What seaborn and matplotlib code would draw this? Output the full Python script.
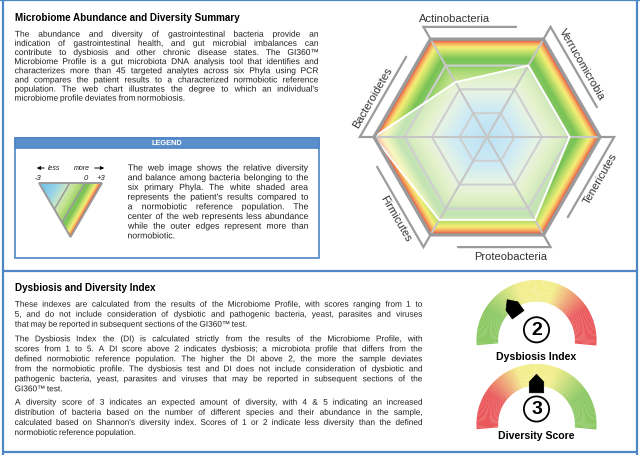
import numpy as np
import matplotlib
matplotlib.use('Agg')
import matplotlib.pyplot as plt
import seaborn as sns
from matplotlib.colors import LinearSegmentedColormap
from matplotlib.patches import Polygon, Wedge, Circle, Rectangle, PathPatch
from matplotlib.textpath import TextPath
from matplotlib.font_manager import FontProperties
from matplotlib.transforms import Affine2D

sns.set_theme(style='white')
plt.rcParams['font.family'] = ['Liberation Sans', 'DejaVu Sans']

W, H = 640, 456
BLUE = '#4f86c6'
INK = '#1f1f1f'

# ---- data ----
phyla = ['Actinobacteria', 'Verrucomicrobia', 'Tenericutes',
         'Proteobacteria', 'Firmicutes', 'Bacteroidetes']
# each phylum label sits on the hexagon edge that starts at this vertex angle (clockwise)
edge_start = [120, 60, 0, -60, -120, -180]
label_shift = [-0.04, 0.06, 0.12, 0.03, 0.12, 0.06]
# patient result on each spoke: -3 = centre, 0 = normobiotic ring, +3 = outer edge
spoke_angles = [0, 60, 120, 180, 240, 300]
spoke_scores = [0.0, 0.0, -0.7, 3.0, 1.3, 1.3]
ring_scores = [-2, -1, 0]

gauge_names = ['Dysbiosis Index', 'Diversity Score']
gauge_scores = [2, 3]
score_lo, score_hi = 1, 5

title_top = 'Microbiome Abundance and Diversity Summary'
intro_lines = [
    "The abundance and diversity of gastrointestinal bacteria provide an",
    "indication of gastrointestinal health, and gut microbial imbalances can",
    "contribute to dysbiosis and other chronic disease states. The GI360\u2122",
    "Microbiome Profile is a gut microbiota DNA analysis tool that identifies and",
    "characterizes more than 45 targeted analytes across six Phyla using PCR",
    "and compares the patient results to a characterized normobiotic reference",
    "population. The web chart illustrates the degree to which an individual's",
    "microbiome profile deviates from normobiosis.",
]
legend_lines = [
    "The web image shows the relative diversity",
    "and balance among bacteria belonging to the",
    "six primary Phyla. The white shaded area",
    "represents the patient's results compared to",
    "a normobiotic reference population. The",
    "center of the web represents less abundance",
    "while the outer edges represent more than",
    "normobiotic.",
]
title_bottom = 'Dysbiosis and Diversity Index'
para1 = [
    "These indexes are calculated from the results of the Microbiome Profile, with scores ranging from 1 to",
    "5, and do not include consideration of dysbiotic and pathogenic bacteria, yeast, parasites and viruses",
    "that may be reported in subsequent sections of the GI360\u2122 test.",
]
para2 = [
    "The Dysbiosis Index the (DI) is calculated strictly from the results of the Microbiome Profile, with",
    "scores from 1 to 5. A DI score above 2 indicates dysbiosis; a microbiota profile that differs from the",
    "defined normobiotic reference population. The higher the DI above 2, the more the sample deviates",
    "from the normobiotic profile. The dysbiosis test and DI does not include consideration of dysbiotic and",
    "pathogenic bacteria, yeast, parasites and viruses that may be reported in subsequent sections of the",
    "GI360\u2122 test.",
]
para3 = [
    "A diversity score of 3 indicates an expected amount of diversity, with 4 & 5 indicating an increased",
    "distribution of bacteria based on the number of different species and their abundance in the sample,",
    "calculated based on Shannon's diversity index. Scores of 1 or 2 indicate less diversity than the defined",
    "normobiotic reference population.",
]

web_cmap = LinearSegmentedColormap.from_list('web', [
    (0.00, '#6cc1e6'), (0.28, '#92d2ea'), (0.47, '#cbe7c4'), (0.60, '#c4e28c'),
    (0.70, '#9fd46c'), (0.73, '#86c862'), (0.80, '#79c256'), (0.87, '#c2e06a'),
    (0.92, '#f6ef76'), (0.955, '#f6b462'), (1.00, '#e5413a')])
dys_cmap = sns.blend_palette(['#8cc863', '#8cc863', '#f3ee8c', '#f3ee8c', '#ea585b', '#ea585b'], as_cmap=True)
div_cmap = sns.blend_palette(['#ea585b', '#ea585b', '#f3ee8c', '#f3ee8c', '#8cc863', '#8cc863'], as_cmap=True)


def score_radius(v):
    # centre..normobiotic ring takes 0.73 of the radius, the coloured band the rest
    return 0.73 * (v + 3) / 3 if v <= 0 else 0.73 + 0.27 * v / 3


def hex_pts(r):
    a = np.radians(spoke_angles)
    return np.column_stack([r * np.cos(a), r * np.sin(a)])


fig = plt.figure(figsize=(W / 100, H / 100), dpi=100)
page = fig.add_axes([0, 0, 1, 1])
page.set_xlim(0, W)
page.set_ylim(H, 0)
page.axis('off')

body_font = FontProperties(family=['Liberation Sans', 'DejaVu Sans'])


def justified(lines, x0, x1, y0, dy, size):
    # word-by-word glyph paths so every word shares one baseline
    px = size * 100 / 72
    for i, line in enumerate(lines):
        words = line.split()
        paths = [TextPath((0, 0), w, size=px, prop=body_font) for w in words]
        ext = [p.get_extents() for p in paths]
        widths = [e.width for e in ext]
        if i == len(lines) - 1:
            gap = 0.31 * px
        else:
            gap = (x1 - x0 - sum(widths)) / (len(words) - 1)
        x = x0
        y = y0 + i * dy
        for p, e, w in zip(paths, ext, widths):
            tp = Affine2D().scale(1, -1).translate(x - e.x0, y).transform_path(p)
            page.add_patch(PathPatch(tp, fc=INK, ec='none', lw=0))
            x += w + gap


# page frame
for xs, ys in [((0, W), (1, 1)), ((3, 3), (0, H)), ((637, 637), (0, H)),
               ((3, 637), (272, 272)), ((3, 637), (453, 453))]:
    page.plot(xs, ys, color=BLUE, lw=1.6, solid_capstyle='butt')

# top text
page.text(15, 20.7, title_top, fontsize=7.1, fontweight='bold', color='black', va='baseline')
justified(intro_lines, 15, 318, 37.7, 9.14, 6.1)

# legend box
page.add_patch(Rectangle((15, 139), 304, 120, fc='white', ec=BLUE, lw=1.2))
page.add_patch(Rectangle((15, 139), 304, 9.5, fc='#5b8fcb', ec=BLUE, lw=1.2))
page.text(167, 144, 'LEGEND', fontsize=5.3, fontweight='bold', color='white', ha='center', va='center')
justified(legend_lines, 128, 308, 171.5, 9.7, 6.3)

# legend triangle (one wedge of the web)
tl, tr, bt = np.array([39, 184.0]), np.array([102, 184.0]), np.array([70.5, 238.0])
nvec = (tr + bt) / 2 - tl
depth = np.linalg.norm(nvec)
nvec = nvec / depth
gx = np.linspace(tl[0], tr[0], 200)
gy = np.linspace(tl[1], bt[1], 170)
GX, GY = np.meshgrid(gx, gy)
tval = np.clip(((GX - tl[0]) * nvec[0] + (GY - tl[1]) * nvec[1]) / depth, 0, 1)
img = page.imshow(web_cmap(tval), extent=(tl[0], tr[0], bt[1], tl[1]), origin='upper',
                  aspect='auto', interpolation='bilinear', zorder=2)
tri = Polygon([tl, tr, bt], closed=True, fc='none', ec='#9a9a9a', lw=1.4, zorder=3)
page.add_patch(tri)
img.set_clip_path(tri)
for lv in [score_radius(-1), score_radius(0)]:
    p, q = tl + lv * (tr - tl), tl + lv * (bt - tl)
    page.plot([p[0], q[0]], [p[1], q[1]], color='#9a9a9a', lw=1.1, zorder=3)
page.annotate('', xy=(34, 169), xytext=(47, 169),
              arrowprops=dict(arrowstyle='-|>', lw=0.7, color='black', mutation_scale=5))
page.text(48, 169, 'less', fontsize=5, style='italic', color=INK, va='center')
page.text(90, 169, 'more', fontsize=5, style='italic', color=INK, va='center', ha='right')
page.annotate('', xy=(107, 169), xytext=(92, 169),
              arrowprops=dict(arrowstyle='-|>', lw=0.7, color='black', mutation_scale=5))
for lab, xx in [('-3', 38), ('0', 86), ('+3', 101)]:
    page.text(xx, 179, lab, fontsize=5.5, style='italic', color=INK, ha='center', va='center')

# bottom text
page.text(15, 291.3, title_bottom, fontsize=7.1, fontweight='bold', color='black', va='baseline')
justified(para1, 15, 422, 307.7, 10, 5.95)
justified(para2, 15, 422, 342.3, 10, 5.95)
justified(para3, 15, 422, 405.7, 10.1, 5.95)

# ---- web chart ----
R_PX, CX, CY = 113, 487, 138
XR, YR = 1.42, 1.27
radar = fig.add_axes([(CX - XR * R_PX) / W, (H - CY - YR * R_PX) / H,
                      2 * XR * R_PX / W, 2 * YR * R_PX / H])
radar.set_xlim(-XR, XR)
radar.set_ylim(-YR, YR)
radar.axis('off')

c30 = np.cos(np.radians(30))
g = np.linspace(-1, 1, 600)
X, Y = np.meshgrid(g, g)
hexnorm = np.maximum.reduce([np.abs(Y), np.abs(X * c30 + Y * 0.5), np.abs(X * c30 - Y * 0.5)]) / c30
bg = radar.imshow(web_cmap(np.clip(hexnorm, 0, 1)), extent=(-1, 1, -1, 1), origin='lower',
                  interpolation='bilinear', zorder=1)
outer = Polygon(hex_pts(1.0), closed=True, fc='none', ec='none')
radar.add_patch(outer)
bg.set_clip_path(outer)

patient = hex_pts(np.array([score_radius(v) for v in spoke_scores]))
radar.add_patch(Polygon(patient, closed=True, fc='white', ec='none', alpha=0.55, zorder=2))

for v in ring_scores:
    radar.add_patch(Polygon(hex_pts(score_radius(v)), closed=True, fc='none',
                            ec='#cfcfcf', lw=1.5, zorder=3))
for x, y in hex_pts(1.0):
    radar.plot([0, x], [0, y], color='#c6c6c6', lw=1.5, zorder=3)
radar.add_patch(Polygon(patient, closed=True, fc='none', ec='white', lw=1.4, zorder=4))
radar.add_patch(Polygon(hex_pts(1.0), closed=True, fc='none', ec='#9b9b9b', lw=2.4, zorder=5))

for name, a, s in zip(phyla, edge_start, label_shift):
    v0 = np.array([np.cos(np.radians(a)), np.sin(np.radians(a))])
    v1 = np.array([np.cos(np.radians(a - 60)), np.sin(np.radians(a - 60))])
    d = (v1 - v0) / np.linalg.norm(v1 - v0)
    nout = np.array([np.cos(np.radians(a - 30)), np.sin(np.radians(a - 30))])
    p0 = 1.125 * v0
    p1 = p0 + 0.82 * d
    radar.plot([v0[0], p0[0], p1[0]], [v0[1], p0[1], p1[1]], color='#9b9b9b', lw=1.6,
               zorder=4, solid_joinstyle='miter')
    rot = np.degrees(np.arctan2(d[1], d[0]))
    flipped = rot > 90 or rot < -90
    if rot > 90:
        rot -= 180
    elif rot < -90:
        rot += 180
    anchor = p0 + s * d + 0.035 * nout
    ha, va = ('right', 'top') if flipped else ('left', 'bottom')
    radar.text(anchor[0], anchor[1], name, fontsize=8, color='#333333', rotation=rot,
               rotation_mode='anchor', ha=ha, va=va)

# ---- gauges ----
GCX, GR = 536.5, 60
gauge_cy = [341, 425]
label_y = [357, 436]
circle_dy = [0.17, 0.25]
for name, score, cmap, gcy, ly, cdy in zip(gauge_names, gauge_scores, [dys_cmap, div_cmap],
                                           gauge_cy, label_y, circle_dy):
    ax = fig.add_axes([(GCX - 1.1 * GR) / W, (H - gcy - 0.6 * GR) / H, 2.2 * GR / W, 1.75 * GR / H])
    ax.set_xlim(-1.1, 1.1)
    ax.set_ylim(-0.6, 1.15)
    ax.axis('off')
    n = 160
    span0, span1 = 185, -5
    step = (span0 - span1) / n
    for i in range(n):
        t = (i + 0.5) / n
        th2 = span0 - i * step
        ax.add_patch(Wedge((0, 0), 1.0, th2 - step - 0.3, th2, width=0.36,
                           fc=cmap(t), ec='none'))
    ang = np.radians(180 - (score - score_lo + 0.5) / (score_hi - score_lo + 1) * 180)
    local = np.array([[0.52, -0.12], [0.70, -0.12], [0.83, 0.0], [0.70, 0.12], [0.52, 0.12]])
    rotm = np.array([[np.cos(ang), -np.sin(ang)], [np.sin(ang), np.cos(ang)]])
    ax.add_patch(Polygon(local @ rotm.T, closed=True, fc='black', ec='black', lw=0.5, zorder=3))
    ax.add_patch(Circle((0, cdy), 0.21, fc='white', ec='black', lw=1.3, zorder=3))
    ax.text(0, cdy, str(score), fontsize=14, fontweight='bold', ha='center', va='center',
            color='black', zorder=4)
    page.text(GCX, ly, name, fontsize=7.6, fontweight='bold', ha='center', va='center',
              color='black')

fig.savefig('out.png', dpi=100)
